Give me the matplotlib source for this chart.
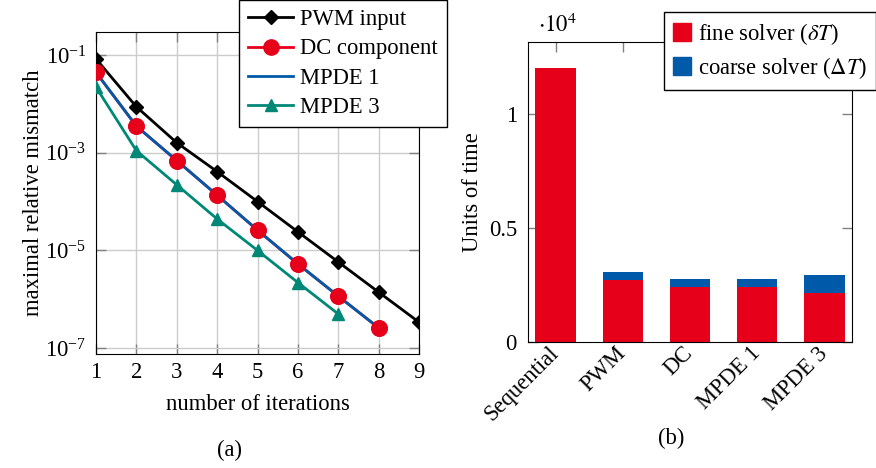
import numpy as np
import matplotlib
matplotlib.use('Agg')
import matplotlib.pyplot as plt
import matplotlib.transforms as mtransforms
from matplotlib.patches import Patch

plt.rcParams['font.family'] = ['Liberation Serif', 'DejaVu Serif']
plt.rcParams['mathtext.fontset'] = 'stix'
plt.rcParams['font.size'] = 16.3

# left panel: convergence
iterations = [1, 2, 3, 4, 5, 6, 7, 8, 9]
pwm_input = [8.3e-2, 8.7e-3, 1.6e-3, 4.1e-4, 1.0e-4, 2.4e-5, 5.8e-6, 1.4e-6, 3.4e-7]
dc_component = [4.4e-2, 3.5e-3, 6.9e-4, 1.35e-4, 2.6e-5, 5.3e-6, 1.16e-6, 2.6e-7]
mpde1 = [4.4e-2, 3.5e-3, 6.9e-4, 1.35e-4, 2.6e-5, 5.3e-6, 1.16e-6, 2.6e-7]
mpde3 = [2.2e-2, 1.1e-3, 2.2e-4, 4.4e-5, 1.0e-5, 2.2e-6, 5.0e-7]

# right panel: cost
methods = ['Sequential', 'PWM', 'DC', 'MPDE 1', 'MPDE 3']
fine_time = [12000, 2720, 2400, 2400, 2135]
coarse_time = [0, 360, 350, 350, 805]

red = '#E6001A'
blue = '#005AA9'
green = '#008877'
tickgray = '#808080'

fig = plt.figure(figsize=(8.76, 4.68), dpi=100)
W, H = 876, 468
ax1 = fig.add_axes([96 / W, 1 - 354 / H, (419 - 96) / W, (354 - 32) / H])
ax2 = fig.add_axes([528 / W, 1 - 342 / H, (852 - 528) / W, (342 - 42) / H])

# (a)
ax1.plot(iterations, pwm_input, color='black', lw=2, marker='D', ms=7, zorder=3)
ax1.plot(iterations[:8], dc_component, color=red, lw=2, marker='o', ms=11, zorder=3)
ax1.plot(iterations[:8], mpde1, color=blue, lw=2, zorder=3.1)
ax1.plot(iterations[:7], mpde3, color=green, lw=2, marker='^', ms=8, zorder=3.2)
# redraw DC markers over the MPDE 1 line
ax1.plot(iterations[:8], dc_component, ls='none', color=red, marker='o', ms=11, zorder=3.3)
ax1.set_yscale('log')
ax1.set_xlim(1, 9)
ax1.set_ylim(10 ** -7.12, 10 ** -0.53)
ax1.set_yticks([1e-1, 1e-3, 1e-5, 1e-7])
ax1.set_yticks([], minor=True)
ax1.set_xticks(iterations)
ax1.grid(True, color='#cccccc', lw=1)
ax1.tick_params(direction='in', top=True, right=True, length=7.5, width=1, color=tickgray)
ax1.tick_params(axis='y', pad=7)
ax1.tick_params(axis='x', pad=6)
ax1.set_xlabel('number of iterations', labelpad=8)
ax1.set_ylabel('maximal relative mismatch', labelpad=1)

handles = [
    plt.Line2D([], [], color='black', lw=2, marker='D', ms=7),
    plt.Line2D([], [], color=red, lw=2, marker='o', ms=11),
    plt.Line2D([], [], color=blue, lw=2),
    plt.Line2D([], [], color=green, lw=2, marker='^', ms=8),
]
leg1 = fig.legend(handles, ['PWM input', 'DC component', 'MPDE 1', 'MPDE 3'],
                  loc='upper left', bbox_to_anchor=(239 / W, 1.0), fancybox=False,
                  edgecolor='black', framealpha=1, borderpad=0.4, labelspacing=0.37,
                  handlelength=2.0, handletextpad=0.3, borderaxespad=0)
leg1.get_frame().set_linewidth(1)

# (b)
x = np.arange(len(methods))
ax2.bar(x, fine_time, width=0.6, color=red, zorder=2)
ax2.bar(x, coarse_time, width=0.6, bottom=fine_time, color=blue, zorder=2)
ax2.set_xlim(-0.41, 4.41)
ax2.set_ylim(0, 13160)
ax2.set_yticks([0, 5000, 10000])
ax2.set_yticklabels(['0', '0.5', '1'])
ax2.set_xticks(x)
ax2.set_xticklabels(methods, rotation=45, ha='right', va='center', rotation_mode='anchor')
shift = mtransforms.ScaledTranslation(-5 / 100, 0, fig.dpi_scale_trans)
for lbl in ax2.get_xticklabels():
    lbl.set_transform(lbl.get_transform() + shift)
ax2.tick_params(direction='in', top=True, right=True, length=7.5, width=1, color=tickgray)
ax2.tick_params(axis='x', bottom=False, pad=6)
ax2.tick_params(axis='y', pad=8)
ax2.set_ylabel('Units of time')
ax2.text(0.03, 1.015, r'$\cdot 10^4$', transform=ax2.transAxes,
         ha='left', va='bottom')
leg2 = fig.legend([Patch(color=red), Patch(color=blue)],
                  [r'fine solver ($\delta T$)', r'coarse solver ($\Delta T$)'],
                  loc='upper right', bbox_to_anchor=(1.0, 1 - 12 / H), fancybox=False,
                  edgecolor='black', framealpha=1, borderpad=0.4, labelspacing=0.35,
                  handlelength=0.8, handleheight=0.85, handletextpad=0.3, borderaxespad=0)
leg2.get_frame().set_linewidth(1)

fig.text(230 / W, 1 - 450 / H, '(a)', ha='center', va='center')
fig.text(671 / W, 1 - 438 / H, '(b)', ha='center', va='center')

fig.savefig('out.png', dpi=100)
